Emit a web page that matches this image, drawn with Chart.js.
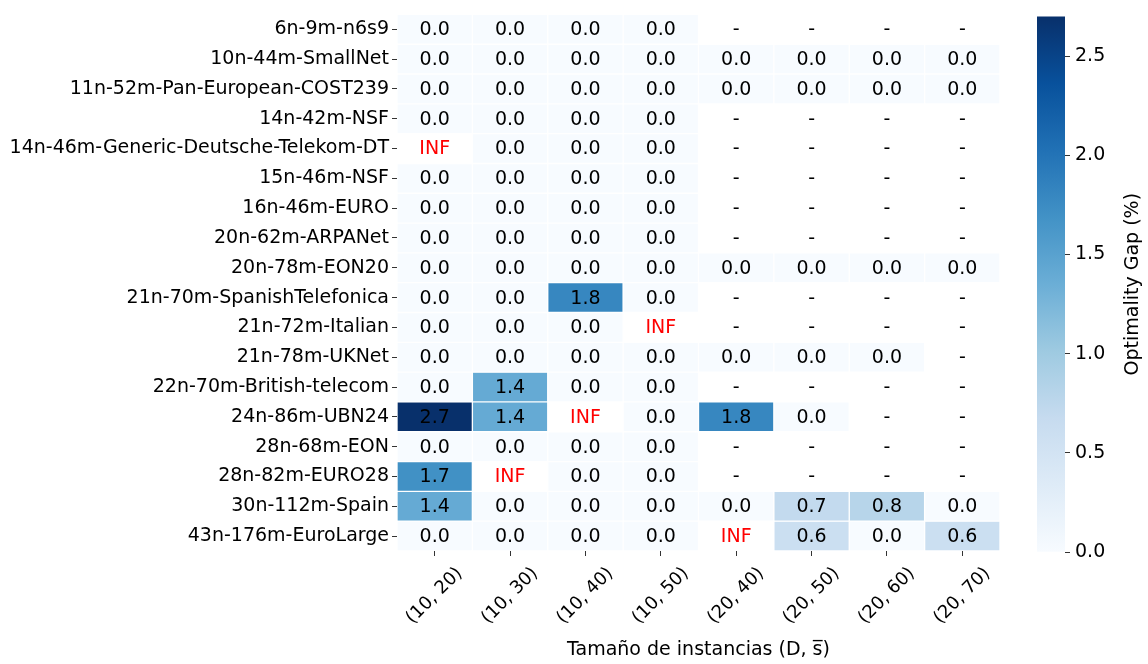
<!DOCTYPE html>
<html>
<head>
<meta charset="utf-8">
<script src="https://cdn.jsdelivr.net/npm/chart.js@4"></script>
<style>
  html, body { margin: 0; padding: 0; background: #fff; }
  #wrap { position: relative; width: 1148px; height: 664px; }
  #heat { position: absolute; left: 0; top: 0; }
  #cbar { position: absolute; left: 1000px; top: 0; }
</style>
</head>
<body>
<div id="wrap">
  <canvas id="heat" width="1148" height="664"></canvas>
  <canvas id="cbar" width="148" height="664"></canvas>
</div>
<script>
const instances = [
  '6n-9m-n6s9', '10n-44m-SmallNet', '11n-52m-Pan-European-COST239', '14n-42m-NSF',
  '14n-46m-Generic-Deutsche-Telekom-DT', '15n-46m-NSF', '16n-46m-EURO', '20n-62m-ARPANet',
  '20n-78m-EON20', '21n-70m-SpanishTelefonica', '21n-72m-Italian', '21n-78m-UKNet',
  '22n-70m-British-telecom', '24n-86m-UBN24', '28n-68m-EON', '28n-82m-EURO28',
  '30n-112m-Spain', '43n-176m-EuroLarge'
];
const sizes = ['(10, 20)', '(10, 30)', '(10, 40)', '(10, 50)', '(20, 40)', '(20, 50)', '(20, 60)', '(20, 70)'];

// optimality gap (%) per instance, one entry per size; null = '-', 'INF' = no solution
const gapValues = [
  [0, 0, 0, 0, null, null, null, null],
  [0, 0, 0, 0, 0, 0, 0, 0],
  [0, 0, 0, 0, 0, 0, 0, 0],
  [0, 0, 0, 0, null, null, null, null],
  ['INF', 0, 0, 0, null, null, null, null],
  [0, 0, 0, 0, null, null, null, null],
  [0, 0, 0, 0, null, null, null, null],
  [0, 0, 0, 0, null, null, null, null],
  [0, 0, 0, 0, 0, 0, 0, 0],
  [0, 0, 1.8, 0, null, null, null, null],
  [0, 0, 0, 'INF', null, null, null, null],
  [0, 0, 0, 0, 0, 0, 0, null],
  [0, 1.4, 0, 0, null, null, null, null],
  [2.7, 1.4, 'INF', 0, 1.8, 0, null, null],
  [0, 0, 0, 0, null, null, null, null],
  [1.7, 'INF', 0, 0, null, null, null, null],
  [1.4, 0, 0, 0, 0, 0.7, 0.8, 0],
  [0, 0, 0, 0, 'INF', 0.6, 0, 0.6]
];
const gapMax = 2.7;
const colorbarTicks = [0, 0.5, 1.0, 1.5, 2.0, 2.5];

// matplotlib "Blues"
const bluesStops = ['#f7fbff', '#deebf7', '#c6dbef', '#9ecae1', '#6baed6', '#4292c6', '#2171b5', '#08519c', '#08306b'];

function hexToRgb(h) {
  return [parseInt(h.slice(1, 3), 16), parseInt(h.slice(3, 5), 16), parseInt(h.slice(5, 7), 16)];
}
function blues(t) {
  t = Math.max(0, Math.min(1, t));
  const pos = t * (bluesStops.length - 1);
  const i = Math.min(Math.floor(pos), bluesStops.length - 2);
  const f = pos - i;
  const a = hexToRgb(bluesStops[i]), b = hexToRgb(bluesStops[i + 1]);
  const c = a.map((v, k) => Math.round(v + (b[k] - v) * f));
  return `rgb(${c[0]},${c[1]},${c[2]})`;
}

const FONT = { family: '"DejaVu Sans", sans-serif', size: 19 };
const XFONT = { family: '"DejaVu Sans", sans-serif', size: 18 };

const datasets = instances.map((name, r) => ({
  label: name,
  data: gapValues[r].map(v => typeof v === 'number' ? [r, r + 1] : null),
  backgroundColor: gapValues[r].map(v => typeof v === 'number' ? blues(v / gapMax) : 'rgba(0,0,0,0)'),
  borderColor: '#ffffff',
  borderWidth: 1,
  borderSkipped: false,
  grouped: false,
  barPercentage: 1,
  categoryPercentage: 1
}));

// cell annotations
const cellText = {
  id: 'cellText',
  afterDatasetsDraw(chart) {
    const { ctx, scales: { x, y } } = chart;
    ctx.save();
    ctx.font = `${FONT.size}px ${FONT.family}`;
    ctx.textAlign = 'center';
    ctx.textBaseline = 'middle';
    gapValues.forEach((row, r) => row.forEach((v, c) => {
      const txt = v === null ? '-' : (v === 'INF' ? 'INF' : v.toFixed(1));
      ctx.fillStyle = v === 'INF' ? '#ff0000' : '#000000';
      ctx.fillText(txt, x.getPixelForValue(c), y.getPixelForValue(r + 0.5) + 1);
    }));
    ctx.restore();
  }
};

new Chart(document.getElementById('heat'), {
  type: 'bar',
  data: { labels: sizes, datasets: datasets },
  options: {
    responsive: false,
    animation: false,
    layout: { padding: { left: 0, right: 148, top: 5, bottom: 0 } },
    plugins: { legend: { display: false }, tooltip: { enabled: false } },
    scales: {
      x: {
        type: 'category',
        grid: { offset: false, drawOnChartArea: false, drawTicks: true, tickLength: 5, color: '#333' },
        border: { display: false },
        ticks: { color: '#000', font: XFONT, maxRotation: 45, minRotation: 45, labelOffset: 25, padding: 7 },
        title: { display: true, text: 'Tamaño de instancias (D, s\u0305)', color: '#000', font: FONT, padding: { top: 4, bottom: 3 } },
        afterFit: s => { s.height = 113; }
      },
      y: {
        type: 'linear',
        min: 0,
        max: instances.length,
        reverse: true,
        afterBuildTicks: s => { s.ticks = instances.map((_, i) => ({ value: i + 0.5 })); },
        grid: { drawOnChartArea: false, drawTicks: true, tickLength: 5, color: '#333' },
        border: { display: false },
        ticks: { color: '#000', font: FONT, autoSkip: false, callback: (v, i) => instances[i] },
        afterFit: s => { s.width = 397; }
      }
    }
  },
  plugins: [cellText]
});

// colorbar
const cbarTitle = {
  id: 'cbarTitle',
  afterDraw(chart) {
    const { ctx, chartArea } = chart;
    ctx.save();
    ctx.font = `${FONT.size}px ${FONT.family}`;
    ctx.fillStyle = '#000';
    ctx.textAlign = 'center';
    ctx.textBaseline = 'middle';
    ctx.translate(133, (chartArea.top + chartArea.bottom) / 2);
    ctx.rotate(-Math.PI / 2);
    ctx.fillText('Optimality Gap (%)', 0, 0);
    ctx.restore();
  }
};

new Chart(document.getElementById('cbar'), {
  type: 'bar',
  data: {
    labels: [''],
    datasets: [{
      data: [[0, gapMax]],
      borderWidth: 0,
      barPercentage: 1,
      categoryPercentage: 1,
      backgroundColor: c => {
        const chart = c.chart;
        if (!chart.chartArea) return bluesStops[0];
        const y = chart.scales.y;
        const g = chart.ctx.createLinearGradient(0, y.getPixelForValue(0), 0, y.getPixelForValue(gapMax));
        bluesStops.forEach((col, i) => g.addColorStop(i / (bluesStops.length - 1), col));
        return g;
      }
    }]
  },
  options: {
    responsive: false,
    animation: false,
    layout: { padding: { left: 37, right: 0, top: 8, bottom: 112 } },
    plugins: { legend: { display: false }, tooltip: { enabled: false } },
    scales: {
      x: { display: false },
      y: {
        position: 'right',
        min: 0,
        max: gapMax,
        afterBuildTicks: s => { s.ticks = colorbarTicks.map(v => ({ value: v })); },
        grid: { drawOnChartArea: false, drawTicks: true, tickLength: 5, color: '#333' },
        border: { display: false },
        ticks: { color: '#000', font: FONT, padding: 5, callback: v => v.toFixed(1) },
        afterFit: s => { s.width = 83; }
      }
    }
  },
  plugins: [cbarTitle]
});
</script>
</body>
</html>
